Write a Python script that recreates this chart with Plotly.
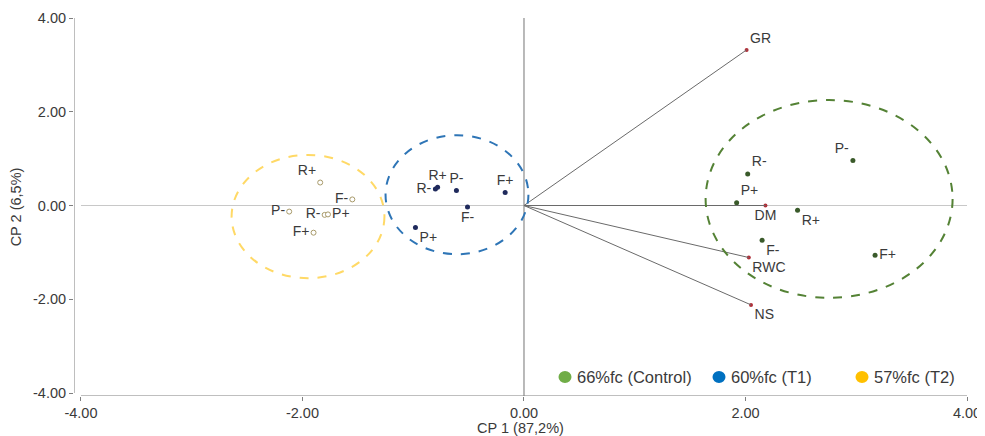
import plotly.graph_objects as go

# ---- data ----
ctrl_labels = ["R-", "P+", "R+", "P-", "F-", "F+"]
ctrl_x = [2.02, 1.92, 2.47, 2.97, 2.15, 3.17]
ctrl_y = [0.67, 0.06, -0.10, 0.96, -0.74, -1.06]

t1_labels = ["R+", "R-", "P-", "F+", "F-", "P+"]
t1_x = [-0.78, -0.80, -0.61, -0.17, -0.51, -0.98]
t1_y = [0.39, 0.35, 0.32, 0.28, -0.03, -0.47]

t2_labels = ["R+", "F-", "P-", "R-", "P+", "F+"]
t2_x = [-1.84, -1.55, -2.12, -1.80, -1.77, -1.90]
t2_y = [0.49, 0.13, -0.13, -0.20, -0.19, -0.58]

var_labels = ["GR", "DM", "RWC", "NS"]
var_x = [2.01, 2.18, 2.03, 2.05]
var_y = [3.32, 0.00, -1.11, -2.12]

# group ellipses: x0, x1, y0, y1
ell_ctrl = [1.64, 3.87, -1.97, 2.25]
ell_t1 = [-1.25, 0.04, -1.04, 1.50]
ell_t2 = [-2.64, -1.26, -1.55, 1.08]

legend_names = ["66%fc (Control)", "60%fc (T1)", "57%fc (T2)"]
legend_colors = ["#70ad47", "#0070c0", "#ffc000"]
tick_vals = [-4, -2, 0, 2, 4]
tick_text = ["-4.00", "-2.00", "0.00", "2.00", "4.00"]

FONT = "Liberation Sans, Arial, sans-serif"
TXT = "#3a3a3a"

# page layout (body has an 8px margin in the browser)
PLOT_L, PLOT_R, PLOT_T, PLOT_B = 74, 967, 18, 396
OFF = 8
W, H = 977, 428


def px(X):
    return (X - PLOT_L) / (PLOT_R - PLOT_L)


def py(Y):
    return (PLOT_B - Y) / (PLOT_B - PLOT_T)


fig = go.Figure()

shapes = []
shapes.append(dict(type="line", xref="x", yref="y", x0=-4, x1=4, y0=0, y1=0,
                   line=dict(color="#c8c8c8", width=1.2), layer="below"))
shapes.append(dict(type="line", xref="x", yref="y", x0=0, x1=0, y0=-4.064, y1=4,
                   line=dict(color="#8c8c8c", width=1.2), layer="below"))
shapes.append(dict(type="line", xref="x", yref="y", x0=-4.063, x1=-4.063, y0=-4, y1=4,
                   line=dict(color="#7f7f7f", width=1)))
shapes.append(dict(type="line", xref="x", yref="y", x0=-4, x1=4, y0=-4.064, y1=-4.064,
                   line=dict(color="#7f7f7f", width=1)))
for vx, vy in zip(var_x, var_y):
    shapes.append(dict(type="line", xref="x", yref="y", x0=0, y0=0, x1=vx, y1=vy,
                       line=dict(color="#6a6a6a", width=1)))
for e, col in [(ell_ctrl, "#548235"), (ell_t1, "#2e75b6"), (ell_t2, "#ffd966")]:
    shapes.append(dict(type="circle", xref="x", yref="y", x0=e[0], x1=e[1], y0=e[2], y1=e[3],
                       line=dict(color=col, width=2, dash="dash")))

LBL = dict(family=FONT, size=14, color=TXT)
ctrl_pos = ["top right", "top right", "bottom right", "top left", "bottom right", "middle right"]
fig.add_trace(go.Scatter(x=ctrl_x, y=ctrl_y, mode="markers+text", text=ctrl_labels,
                         textposition=ctrl_pos, showlegend=False,
                         marker=dict(size=5, color="#3a5a2a"), textfont=LBL))
t1_pos = ["top center", "middle left", "top center", "top center", "bottom center", "bottom right"]
fig.add_trace(go.Scatter(x=t1_x, y=t1_y, mode="markers+text", text=t1_labels,
                         textposition=t1_pos, showlegend=False,
                         marker=dict(size=5, color="#1f2a5c"), textfont=LBL))
t2_pos = ["top left", "middle left", "middle left", "middle left", "middle right", "middle left"]
fig.add_trace(go.Scatter(x=t2_x, y=t2_y, mode="markers+text", text=t2_labels,
                         textposition=t2_pos, showlegend=False,
                         marker=dict(size=5, color="white", line=dict(color="#a89a6a", width=1)),
                         textfont=LBL))
var_pos = ["top right", "bottom center", "bottom right", "bottom right"]
fig.add_trace(go.Scatter(x=var_x, y=var_y, mode="markers+text", text=var_labels,
                         textposition=var_pos, showlegend=False,
                         marker=dict(size=4, color="#b0303a"), textfont=LBL))

# custom legend (marker circle + label)
annotations = []
leg_marker_x = [565, 719, 862]
leg_y = 377
for name, col, mx in zip(legend_names, legend_colors, leg_marker_x):
    shapes.append(dict(type="circle", xref="paper", yref="paper",
                       xsizemode="pixel", ysizemode="pixel",
                       xanchor=px(mx), yanchor=py(leg_y),
                       x0=-6.5, x1=6.5, y0=-6, y1=6,
                       fillcolor=col, line=dict(color=col, width=0)))
    annotations.append(dict(xref="paper", yref="paper", x=px(mx + 10), y=py(leg_y),
                            xanchor="left", yanchor="middle", showarrow=False,
                            text=name, font=dict(family=FONT, size=16.5, color=TXT)))

fig.update_layout(
    width=W, height=H,
    margin=dict(l=PLOT_L - OFF, r=OFF + W - PLOT_R, t=PLOT_T - OFF, b=OFF + H - PLOT_B,
                autoexpand=False),
    paper_bgcolor="white", plot_bgcolor="white",
    font=dict(family=FONT, size=14.5, color=TXT),
    shapes=shapes, annotations=annotations,
    showlegend=False,
    xaxis=dict(range=[-4.063, 4], tickvals=tick_vals, ticktext=tick_text,
               showgrid=False, zeroline=False, showline=False,
               ticks="outside", ticklen=4, tickcolor="#7f7f7f",
               tickfont=dict(family=FONT, size=14.5, color=TXT),
               title=dict(text="CP 1 (87,2%)", standoff=2,
                          font=dict(family=FONT, size=14.5, color=TXT))),
    yaxis=dict(range=[-4.064, 4], tickvals=tick_vals, ticktext=tick_text,
               showgrid=False, zeroline=False, showline=False,
               ticks="outside", ticklen=4, tickcolor="#7f7f7f",
               tickfont=dict(family=FONT, size=14.5, color=TXT),
               title=dict(text="CP 2 (6,5%)", standoff=8,
                          font=dict(family=FONT, size=14.5, color=TXT))),
)

fig.write_html("out.html")
